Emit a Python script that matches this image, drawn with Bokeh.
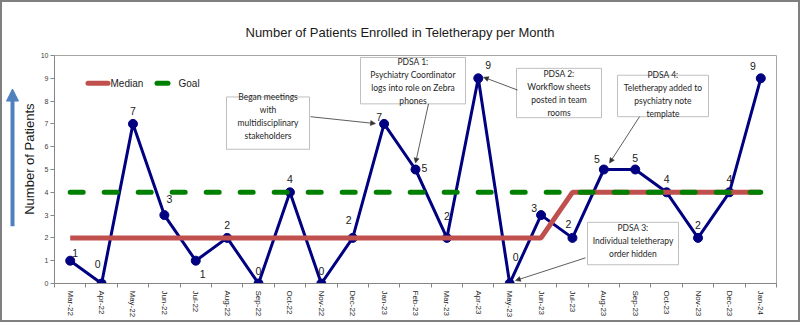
import math
from bokeh.plotting import figure
from bokeh.layouts import row
from bokeh.models import Range1d, FixedTicker, Arrow, NormalHead, ColumnDataSource
from bokeh.core.properties import value
from bokeh.embed import file_html
from bokeh.resources import INLINE

# ---------------- data ----------------
months = ["Mar-22", "Apr-22", "May-22", "Jun-22", "Jul-22", "Aug-22", "Sep-22", "Oct-22",
          "Nov-22", "Dec-22", "Jan-23", "Feb-23", "Mar-23", "Apr-23", "May-23", "Jun-23",
          "Jul-23", "Aug-23", "Sep-23", "Oct-23", "Nov-23", "Dec-23", "Jan-24"]
patients = [1, 0, 7, 3, 1, 2, 0, 4, 0, 2, 7, 5, 2, 9, 0, 3, 2, 5, 5, 4, 2, 4, 9]
median = [2, 2, 2, 2, 2, 2, 2, 2, 2, 2, 2, 2, 2, 2, 2, 2, 4, 4, 4, 4, 4, 4, 4]
goal = [4, 4, 4, 4, 4, 4, 4, 4, 4, 4, 4, 4, 4, 4, 4, 4, 4, 4, 4, 4, 4, 4, 4]

# label placement (screen pixel offsets, style only)
lab_dx = [5, -4, 0, 5, 7, 0, 0, 0, 0, -4, -5, 9, 0, 10, 6, -7, -4, -7, 0, 0, 0, 0, -8]
lab_dy = [-8, -20, -13, -16, 13, -13, -13, -13, -13, -18, -7, -2, -22, -13, -27, -7, -14, -11, -12, -13, -13, -13, -12]

idx = list(range(len(months)))
N = len(months)

# page geometry (absolute pixels)
C = 2                           # css border width (content offset)
LEFT_W = 34                     # narrow left panel (arrow + axis title)
MAIN_W = 762
H = 318
FX0, FX1, FY0, FY1 = 54, 776, 55, 286   # plot frame, absolute pixels


def X(px):
    return -0.5 + (px - FX0) * N / (FX1 - FX0)


def Y(py):
    return (FY1 - py) * 10 / (FY1 - FY0)


# ---------------- left panel (frame aligned with the main frame vertically) ----------------
lp = figure(width=LEFT_W, height=H, x_range=Range1d(C, C + LEFT_W), y_range=Range1d(-FY1, -FY0),
            output_backend="svg", toolbar_location=None, x_axis_location=None, y_axis_location=None,
            min_border=0, min_border_left=0, min_border_right=0,
            min_border_top=FY0 - C, min_border_bottom=C + H - FY1)
lp.outline_line_color = None
lp.xgrid.visible = False
lp.ygrid.visible = False

lp.text(x=[29], y=[-160], text=["Number of Patients"], angle=math.pi / 2,
        text_font=value("Liberation Sans"), text_font_size="13px", text_color="#1a1a1a",
        text_align="center", text_baseline="middle")
lp.add_layout(Arrow(end=NormalHead(size=12, fill_color="#4F81BD", line_color="#4F81BD"),
                    x_start=12, y_start=-228, x_end=12, y_end=-89,
                    line_color="#4F81BD", line_width=4))

# ---------------- main chart ----------------
p = figure(width=MAIN_W, height=H, x_range=Range1d(-0.5, N - 0.5), y_range=Range1d(0, 10),
           output_backend="svg", toolbar_location=None,
           min_border_left=FX0 - C - LEFT_W, min_border_right=C + LEFT_W + MAIN_W - FX1,
           min_border_top=FY0 - C, min_border_bottom=C + H - FY1)
p.xgrid.visible = False
p.ygrid.visible = False
p.outline_line_color = "#A6A6A6"
p.outline_line_width = 1

p.title.text = "Number of Patients Enrolled in Teletherapy per Month"
p.title.align = "left"
p.title.offset = 245 - FX0
p.title.standoff = 32
p.title.text_font = "Liberation Sans"
p.title.text_font_size = "13px"
p.title.text_font_style = "normal"
p.title.text_color = "#1a1a1a"

# y axis
p.yaxis.ticker = FixedTicker(ticks=list(range(11)))
p.yaxis.major_label_text_font = "Liberation Sans"
p.yaxis.major_label_text_font_size = "7px"
p.yaxis.major_label_text_color = "#404040"
p.yaxis.major_tick_out = 4
p.yaxis.major_tick_in = 0
p.yaxis.minor_tick_line_color = None
p.yaxis.axis_line_color = "#868686"
p.yaxis.major_tick_line_color = "#868686"
p.yaxis.major_label_standoff = 2

# x axis
p.xaxis.ticker = FixedTicker(ticks=idx, minor_ticks=[i - 0.5 for i in range(N + 1)])
p.xaxis.major_label_overrides = {i: m for i, m in enumerate(months)}
p.xaxis.major_tick_line_color = None
p.xaxis.major_tick_out = 0
p.xaxis.major_tick_in = 0
p.xaxis.minor_tick_out = 4
p.xaxis.minor_tick_in = 0
p.xaxis.minor_tick_line_color = "#868686"
p.xaxis.axis_line_color = "#868686"
p.xaxis.major_label_orientation = -math.pi / 2
p.xaxis.major_label_text_font = "Liberation Sans"
p.xaxis.major_label_text_font_size = "8px"
p.xaxis.major_label_text_color = "#262626"
p.xaxis.major_label_standoff = 3

src = ColumnDataSource(dict(x=idx, y=patients, m=median, g=goal,
                            t=[str(v) for v in patients], dx=lab_dx, dy=lab_dy))

# annotation boxes
boxes = [
    ((226, 97, 309, 150), (267.5, 117), "Began meetings\nwith\nmultidisciplinary\nstakeholders"),
    ((360, 57, 465, 104), (412.5, 81), "PDSA 1:\nPsychiatry Coordinator\nlogs into role on Zebra\nphones"),
    ((516, 68, 601, 118), (558.5, 93), "PDSA 2:\nWorkflow sheets\nposted in team\nrooms"),
    ((617, 75, 708, 117), (662.5, 95), "PDSA 4:\nTeletherapy added to\npsychiatry note\ntemplate"),
    ((587, 224, 678, 267), (632.5, 243), "PDSA 3:\nIndividual teletherapy\norder hidden"),
]
p.quad(left=[X(b[0][0]) for b in boxes], right=[X(b[0][2]) for b in boxes],
       top=[Y(b[0][1]) for b in boxes], bottom=[Y(b[0][3]) for b in boxes],
       fill_color="white", line_color="#BFBFBF", line_width=1)
p.text(x=[X(b[1][0]) for b in boxes], y=[Y(b[1][1]) for b in boxes], text=[b[2] for b in boxes],
       text_font=value("Lato"), text_font_size="8.5px", text_color="#262626",
       text_align="center", text_baseline="middle", text_line_height=1.3)

# data series
p.line("x", "y", source=src, line_color="#000080", line_width=3)
p.scatter("x", "y", source=src, size=9, color="#000080")
p.line("x", "m", source=src, line_color="#C0504D", line_width=5)
p.line("x", "g", source=src, line_color="#008000", line_width=5, line_dash="13 21", line_cap="round")
p.text("x", "y", text="t", source=src, x_offset="dx", y_offset="dy",
       text_font=value("Liberation Sans"), text_font_size="10.5px", text_color="#1a1a1a",
       text_align="center", text_baseline="middle")

# legend
p.segment(x0=[X(87.5), X(156.5)], y0=[Y(83), Y(83)], x1=[X(107.5), X(167.5)], y1=[Y(83), Y(83)],
          line_color=["#C0504D", "#008000"], line_width=5, line_cap="round")
p.text(x=[X(110), X(178)], y=[Y(83), Y(83)], text=["Median", "Goal"],
       text_font=value("Liberation Sans"), text_font_size="10px", text_color="#1a1a1a",
       text_align="left", text_baseline="middle")

# arrows from boxes
arrows = [((310, 117), (375, 124)), ((428, 104), (415, 164)), ((517, 90), (483, 77)),
          ((639, 117), (609, 164)), ((585, 260), (515, 283))]
for (a, b) in arrows:
    p.add_layout(Arrow(end=NormalHead(size=5, fill_color="#333333", line_color="#333333", line_width=0.5),
                       x_start=X(a[0]), y_start=Y(a[1]), x_end=X(b[0]), y_end=Y(b[1]),
                       line_color="#333333", line_width=0.8))

layout = row(lp, p, spacing=0, styles={"border": "2px solid #7F7F7F"})

open("out.html", "w").write(file_html(layout, INLINE))
